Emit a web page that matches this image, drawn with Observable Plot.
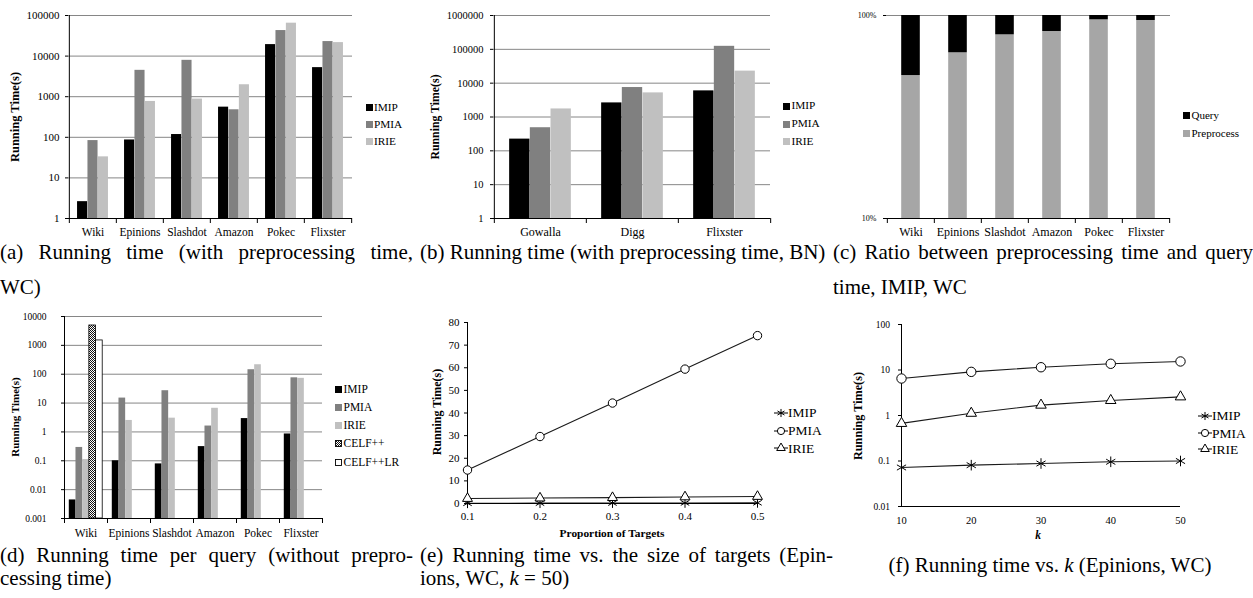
<!DOCTYPE html>
<html><head><meta charset="utf-8">
<script src="https://cdn.jsdelivr.net/npm/d3@7"></script>
<script src="https://cdn.jsdelivr.net/npm/@observablehq/plot@0.6"></script>
<style>
body{margin:0;background:#fff;}
#fig{position:relative;width:1253px;height:598px;overflow:hidden;background:#fff;font-family:"Liberation Serif","Times New Roman",Times,serif;color:#000;}
#fig svg text{font-family:"Liberation Serif","Times New Roman",Times,serif;}
.cap{position:absolute;font-size:21px;line-height:24px;white-space:nowrap;}
.cap.j{text-align:justify;text-align-last:justify;white-space:normal;}
.ytitle{position:absolute;font-weight:bold;white-space:nowrap;transform:translate(-50%,-50%) rotate(-90deg);}
.xtitle{position:absolute;font-weight:bold;white-space:nowrap;transform:translate(-50%,-50%);}
.legrow{position:absolute;display:flex;align-items:center;white-space:nowrap;line-height:1;}
</style>
</head><body>
<div id="fig"></div>
<script>
// ---------------- data ----------------
const catsWC = ["Wiki", "Epinions", "Slashdot", "Amazon", "Pokec", "Flixster"];
const catsBN = ["Gowalla", "Digg", "Flixster"];
const algos = ["IMIP", "PMIA", "IRIE"];
const algosQ = ["IMIP", "PMIA", "IRIE", "CELF++", "CELF++LR"];

// (a) running time with preprocessing, WC
const aIMIP = [2.6, 86, 117, 553, 19200, 5200];
const aPMIA = [83, 4460, 7870, 476, 42600, 22800];
const aIRIE = [33, 764, 873, 1970, 64700, 21500];
const aYTicks = [1, 10, 100, 1000, 10000, 100000];

// (b) running time with preprocessing, BN
const bIMIP = [222, 2610, 5920];
const bPMIA = [482, 7430, 122800];
const bIRIE = [1730, 5160, 22700];
const bYTicks = [1, 10, 100, 1000, 10000, 100000, 1000000];

// (c) ratio preprocess / query, IMIP, WC
const cParts = ["Query", "Preprocess"];
const cPreprocess = [0.506, 0.655, 0.803, 0.834, 0.952, 0.945];
const cYTicks = [0.1, 1];

// (d) running time per query
const dIMIP = [0.0044, 0.10, 0.078, 0.31, 2.9, 0.85];
const dPMIA = [0.29, 14.9, 26.8, 1.6, 143, 75];
const dIRIE = [0.11, 2.5, 3.0, 6.6, 213, 72];
const dCELF = [4880, null, null, null, null, null];
const dCELFLR = [1480, null, null, null, null, null];
const dYTicks = [0.001, 0.01, 0.1, 1, 10, 100, 1000, 10000];

// (e) running time vs proportion of targets
const eProportion = [0.1, 0.2, 0.3, 0.4, 0.5];
const eIMIP = [0.1, 0.15, 0.2, 0.25, 0.3];
const ePMIA = [14.8, 29.6, 44.4, 59.4, 74.2];
const eIRIE = [2.2, 2.4, 2.6, 2.9, 3.1];
const eYTicks = [0, 10, 20, 30, 40, 50, 60, 70, 80];

// (f) running time vs k
const fK = [10, 20, 30, 40, 50];
const fIMIP = [0.072, 0.081, 0.088, 0.096, 0.100];
const fPMIA = [6.5, 9.1, 11.5, 13.7, 15.4];
const fIRIE = [0.67, 1.12, 1.69, 2.14, 2.57];
const fYTicks = [0.01, 0.1, 1, 10, 100];

// ---------------- helpers ----------------
const FONT = "'Liberation Serif','Times New Roman',Times,serif";
const fig = document.getElementById("fig");
const C_IMIP = "#000000", C_PMIA = "#808080", C_IRIE = "#c0c0c0";
const GRID = "#868686";

const defsHost = document.createElementNS("http://www.w3.org/2000/svg", "svg");
defsHost.setAttribute("width", 0); defsHost.setAttribute("height", 0);
defsHost.style.position = "absolute";
defsHost.innerHTML = `<defs><pattern id="celfHatch" width="2" height="2" patternUnits="userSpaceOnUse">
<rect width="2" height="2" fill="#ffffff"/><rect width="1" height="1" fill="#111"/><rect x="1" y="1" width="1" height="1" fill="#111"/></pattern></defs>`;
fig.appendChild(defsHost);

function place(el, left, top) {
  el.style.position = "absolute";
  el.style.left = left + "px";
  el.style.top = top + "px";
  fig.appendChild(el);
}
function finish(svg, xSize, ySize) {
  svg.style.fontFamily = FONT;
  svg.style.fontSize = "11px";
  svg.style.background = "transparent";
  svg.style.overflow = "visible";
  svg.style.color = "#000";
  svg.style.maxWidth = "none";
  const s = d3.select(svg);
  s.selectAll('g[aria-label^="x-axis"] text').attr("font-size", xSize);
  s.selectAll('g[aria-label^="y-axis"] text').attr("font-size", ySize);
  return svg;
}
const STYLE = `font-family:${FONT};font-size:11px;background:transparent;overflow:visible;color:#000;`;

function barChart(o) {
  const {cats, series, domain, ticks, grid, fmt, width, height, ml, mr, mt, mb, groupFrac, tickSize, tickPadding, xPad} = o;
  const bw = (width - ml - mr) / cats.length;
  const n = series.length;
  const w = bw * groupFrac / n;
  const g = (bw - n * w) / 2;
  const base = domain[0];
  const marks = [Plot.ruleY(grid, {y: d => d, stroke: GRID, strokeWidth: 1})];
  series.forEach((s, i) => {
    const rows = cats.map((c, j) => ({cat: c, lo: s.lo ? s.lo[j] : base, v: s.values[j]})).filter(d => d.v != null);
    marks.push(Plot.barY(rows, {
      x: "cat", y1: "lo", y2: "v", fill: s.fill,
      stroke: s.stroke, strokeWidth: s.stroke ? 0.8 : undefined,
      insetLeft: o.stacked ? g : g + i * w,
      insetRight: o.stacked ? g : bw - g - (i + 1) * w
    }));
  });
  marks.push(Plot.ruleY([base], {y: d => d, stroke: "#000"}));
  if (o.leftAxis !== false) marks.push(Plot.ruleX([cats[0]], {x: d => d, dx: -bw / 2, stroke: "#000"}));
  marks.push(Plot.ruleX(cats, {x: d => d, dx: -bw / 2, y1: base, y2: base, insetBottom: -5, stroke: "#000"}));
  marks.push(Plot.ruleX([cats[cats.length - 1]], {x: d => d, dx: bw / 2, y1: base, y2: base, insetBottom: -5, stroke: "#000"}));
  const svg = Plot.plot({
    width, height, marginLeft: ml, marginRight: mr, marginTop: mt, marginBottom: mb,
    style: STYLE,
    x: {type: "band", domain: cats, padding: 0, tickSize: 0, tickPadding: xPad, label: null},
    y: {type: "log", domain, ticks, tickFormat: fmt, tickSize, tickPadding, label: null},
    marks
  });
  return finish(svg, o.xFont, o.yFont);
}

function lineChart(o) {
  const marks = [];
  o.series.forEach(s => {
    const rows = o.xs.map((x, i) => ({x, y: s.values[i]}));
    marks.push(Plot.line(rows, {x: "x", y: "y", stroke: "#1a1a1a", strokeWidth: 1.1}));
  });
  marks.push(Plot.ruleX([o.xDomain[0]], {x: d => d, stroke: "#000"}));
  marks.push(Plot.ruleY([o.yDomain[0]], {y: d => d, stroke: "#000"}));
  o.series.forEach(s => {
    const rows = o.xs.map((x, i) => ({x, y: s.values[i]}));
    marks.push(Plot.dot(rows, {x: "x", y: "y", symbol: s.symbol, r: s.r,
      fill: s.symbol === "asterisk" ? "none" : "white", stroke: "#000", strokeWidth: 1}));
  });
  const svg = Plot.plot({
    width: o.width, height: o.height, marginLeft: o.ml, marginRight: o.mr, marginTop: o.mt, marginBottom: o.mb,
    style: STYLE,
    x: {type: "linear", domain: o.xDomain, ticks: o.xs, tickFormat: o.xFmt, tickSize: 0, tickPadding: o.xPad, label: null},
    y: {type: o.yType, domain: o.yDomain, ticks: o.yTicks, tickFormat: o.yFmt, tickSize: 3, tickPadding: o.yPad, label: null},
    marks
  });
  return finish(svg, o.xFont, o.yFont);
}

function yTitle(text, cx, cy, size) {
  const d = document.createElement("div");
  d.className = "ytitle"; d.textContent = text; d.style.fontSize = size + "px";
  place(d, cx, cy);
}
function xTitle(html, cx, cy, size) {
  const d = document.createElement("div");
  d.className = "xtitle"; d.innerHTML = html; d.style.fontSize = size + "px";
  place(d, cx, cy);
}
function barLegend(left, rows, items, size) {
  items.forEach((it, i) => {
    const r = document.createElement("div");
    r.className = "legrow";
    r.style.fontSize = size + "px";
    r.style.height = "14px";
    const rect = it.stroke
      ? `<rect x="0.5" y="0.5" width="6" height="6" fill="${it.fill}" stroke="${it.stroke}" stroke-width="0.9"/>`
      : `<rect x="0" y="0" width="7" height="7" fill="${it.fill}"/>`;
    r.innerHTML = `<svg width="7" height="7" style="display:block;overflow:visible">${rect}</svg><span style="margin-left:1.5px">${it.label}</span>`;
    place(r, left, rows[i] - 7);
  });
}
function lineLegend(left, rows, items, size) {
  const types = {circle: d3.symbolCircle, triangle: d3.symbolTriangle, asterisk: d3.symbolAsterisk};
  items.forEach((it, i) => {
    const r = document.createElement("div");
    r.className = "legrow";
    r.style.fontSize = size + "px";
    r.style.height = "14px";
    const path = d3.symbol(types[it.symbol], Math.PI * it.r * it.r)();
    r.innerHTML = `<svg width="14" height="12" style="display:block;overflow:visible"><line x1="0" x2="14" y1="6" y2="6" stroke="#000"/><path transform="translate(7,6)" d="${path}" fill="${it.symbol === 'asterisk' ? 'none' : 'white'}" stroke="#000"/></svg><span>${it.label}</span>`;
    place(r, left, rows[i] - 7);
  });
}
function caption(html, left, top, width, justify, center) {
  const d = document.createElement("div");
  d.className = "cap" + (justify ? " j" : "");
  d.innerHTML = html;
  if (width) d.style.width = width + "px";
  if (center) { d.style.transform = "translateX(-50%)"; }
  place(d, left, top);
}

// ---------------- (a) ----------------
const svgA = barChart({
  cats: catsWC,
  series: [{values: aIMIP, fill: C_IMIP}, {values: aPMIA, fill: C_PMIA}, {values: aIRIE, fill: C_IRIE}],
  domain: [1, 100000], ticks: aYTicks, grid: aYTicks.slice(1), fmt: d => String(d),
  width: 360, height: 240, ml: 68, mr: 8, mt: 15, mb: 22, groupFrac: 0.66,
  tickSize: 3, tickPadding: 6, xPad: 9, xFont: 11.5, yFont: 11
});
place(svgA, 0, 0);
yTitle("Running Time(s)", 15, 117, 12.5);
barLegend(365.5, [107.3, 124.3, 141.7], [
  {label: algos[0], fill: C_IMIP}, {label: algos[1], fill: C_PMIA}, {label: algos[2], fill: C_IRIE}], 11.3);

// ---------------- (b) ----------------
const svgB = barChart({
  cats: catsBN,
  series: [{values: bIMIP, fill: C_IMIP}, {values: bPMIA, fill: C_PMIA}, {values: bIRIE, fill: C_IRIE}],
  domain: [1, 1000000], ticks: bYTicks, grid: bYTicks.slice(1), fmt: d => String(d),
  width: 360, height: 240, ml: 73, mr: 10, mt: 15, mb: 22, groupFrac: 0.672,
  tickSize: 3, tickPadding: 7, xPad: 9, xFont: 12, yFont: 10.5
});
place(svgB, 420, 0);
yTitle("Running Time(s)", 435, 117, 11.8);
barLegend(783, [106, 124, 141.7], [
  {label: algos[0], fill: C_IMIP}, {label: algos[1], fill: C_PMIA}, {label: algos[2], fill: C_IRIE}], 11.3);

// ---------------- (c) ----------------
const svgC = barChart({
  cats: catsWC,
  series: [
    {values: cPreprocess, fill: "#a6a6a6"},
    {lo: cPreprocess, values: cPreprocess.map(p => 1), fill: "#000"}
  ],
  stacked: true,
  domain: [0.1, 1], ticks: cYTicks, grid: [1], fmt: d => Math.round(d * 100) + "%",
  width: 345, height: 240, ml: 53, mr: 8, mt: 15, mb: 22, groupFrac: 0.40, leftAxis: false,
  tickSize: 3, tickPadding: 7, xPad: 9, xFont: 12, yFont: 8
});
place(svgC, 833, 0);
barLegend(1183, [115, 133.3], [
  {label: cParts[0], fill: "#000"}, {label: cParts[1], fill: "#a6a6a6"}], 11);

// ---------------- (d) ----------------
const svgD = barChart({
  cats: catsWC,
  series: [
    {values: dIMIP, fill: C_IMIP}, {values: dPMIA, fill: C_PMIA}, {values: dIRIE, fill: C_IRIE},
    {values: dCELF, fill: "url(#celfHatch)", stroke: "#000"},
    {values: dCELFLR, fill: "#ffffff", stroke: "#000"}
  ],
  domain: [0.001, 10000], ticks: dYTicks, grid: dYTicks.slice(1), fmt: d => String(d),
  width: 330, height: 240, ml: 64, mr: 8, mt: 16, mb: 22, groupFrac: 0.777,
  tickSize: 3, tickPadding: 15, xPad: 10, xFont: 11.5, yFont: 9.5
});
place(svgD, 0, 300);
yTitle("Running Time(s)", 15, 417, 11);
barLegend(335, [389.3, 407.7, 425.3, 443.7, 462.3], [
  {label: algosQ[0], fill: C_IMIP}, {label: algosQ[1], fill: C_PMIA}, {label: algosQ[2], fill: C_IRIE},
  {label: algosQ[3], fill: "url(#celfHatch)", stroke: "#000"}, {label: algosQ[4], fill: "#fff", stroke: "#000"}], 11.5);

// ---------------- (e) ----------------
const svgE = lineChart({
  xs: eProportion, xDomain: [0.1, 0.5], xFmt: d => d.toFixed(1),
  yType: "linear", yDomain: [0, 80], yTicks: eYTicks, yFmt: d => String(d),
  series: [
    {values: eIMIP, symbol: "asterisk", r: 4.6},
    {values: ePMIA, symbol: "circle", r: 4.2},
    {values: eIRIE, symbol: "triangle", r: 3.7}
  ],
  width: 345, height: 240, ml: 47, mr: 8, mt: 22, mb: 37,
  xPad: 9, yPad: 5, xFont: 11, yFont: 11
});
place(svgE, 420, 300);
yTitle("Running Time(s)", 437, 412, 12);
xTitle("Proportion of Targets", 612, 533, 11.4);
lineLegend(774, [412.7, 430.7, 448.3], [
  {label: algos[0], symbol: "asterisk", r: 3.8}, {label: algos[1], symbol: "circle", r: 3.6}, {label: algos[2], symbol: "triangle", r: 3.2}], 13.5);

// ---------------- (f) ----------------
const svgF = lineChart({
  xs: fK, xDomain: [10, 50], xFmt: d => String(d),
  yType: "log", yDomain: [0.01, 100], yTicks: fYTicks, yFmt: d => String(d),
  series: [
    {values: fIMIP, symbol: "asterisk", r: 5},
    {values: fPMIA, symbol: "circle", r: 4.7},
    {values: fIRIE, symbol: "triangle", r: 3.9}
  ],
  width: 355, height: 240, ml: 68, mr: 8, mt: 24, mb: 34,
  xPad: 10, yPad: 8.5, xFont: 10.5, yFont: 9.5
});
place(svgF, 833, 300);
yTitle("Running Time(s)", 858, 416, 12.2);
xTitle("<i>k</i>", 1038, 535, 11.5);
lineLegend(1198, [416, 433.3, 449.3], [
  {label: algos[0], symbol: "asterisk", r: 3.8}, {label: algos[1], symbol: "circle", r: 3.6}, {label: algos[2], symbol: "triangle", r: 3.2}], 13.5);

// ---------------- captions ----------------
caption("(a) Running time (with preprocessing time,", 0, 240, 413, true);
caption("WC)", 0, 275);
caption("(b) Running time (with preprocessing time, BN)", 420, 240);
caption("(c) Ratio between preprocessing time and query", 833, 240, 420, true);
caption("time, IMIP, WC", 833, 275);
caption("(d) Running time per query (without prepro-", 0, 542.5, 413, true);
caption("cessing time)", 0, 566);
caption("(e) Running time vs. the size of targets (Epin-", 420, 542.5, 413, true);
caption("ions, WC, <i>k</i> = 50)", 420, 566);
caption("(f) Running time vs. <i>k</i> (Epinions, WC)", 1050, 552.5, null, false, true);
</script>
</body></html>
